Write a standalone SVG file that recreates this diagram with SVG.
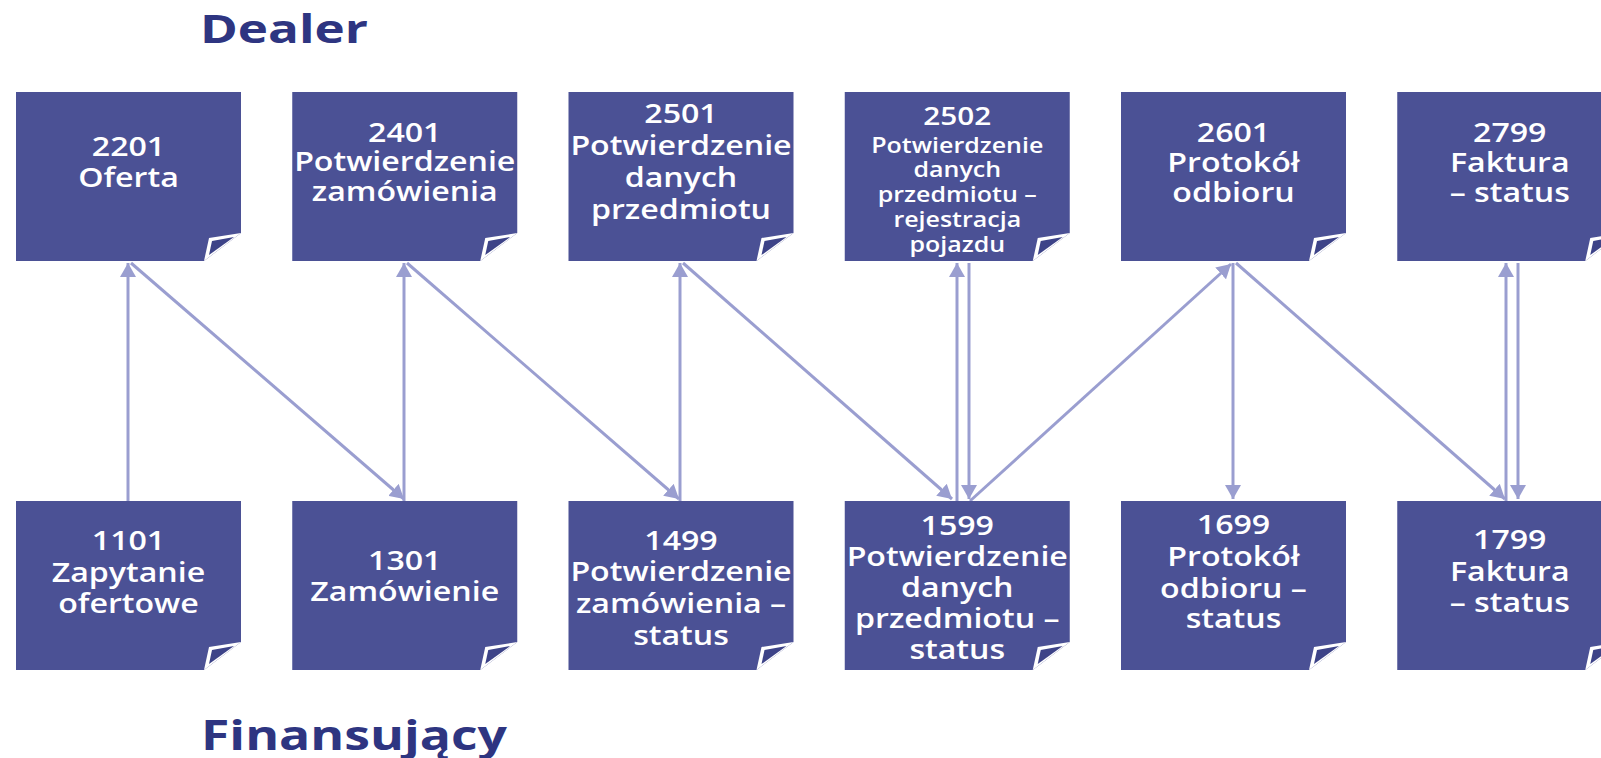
<svg xmlns="http://www.w3.org/2000/svg" width="1601" height="758" viewBox="0 0 1601 758">
<style>
.box{fill:#4b5195}
.fw{fill:#ffffff}
.fd{fill:#3d4388}
.t{fill:#ffffff;font-family:"Open Sans","Noto Sans","DejaVu Sans",sans-serif;font-weight:600;font-size:27px;text-anchor:middle}
.s{font-size:21px}
.h{fill:#2e3581;font-family:"Open Sans","Noto Sans","DejaVu Sans",sans-serif;font-weight:700}
.c path{fill:none;stroke:#9a9ed0;stroke-width:3;marker-end:url(#ah)}
</style>
<defs>
<marker id="ah" markerUnits="userSpaceOnUse" markerWidth="16" markerHeight="16" refX="14" refY="8" orient="auto" viewBox="0 0 16 16"><path d="M0,0 L14,8 L0,16 Z" fill="#9a9ed0"/></marker>
<path id="body" d="M0,0 H225 V141 L188,169 H0 Z"/>
<path id="foldw" d="M188,169 L193,146 L225,141 Z"/>
<path id="foldd" d="M196,149 L218,145 L193,163 Z"/>
</defs>
<rect width="1601" height="758" fill="#ffffff"/>
<text class="h" x="200" y="43" font-size="39" textLength="168" lengthAdjust="spacingAndGlyphs">Dealer</text>
<text class="h" x="201" y="750" font-size="41" textLength="306" lengthAdjust="spacingAndGlyphs">Finansujący</text>

<g id="connectors" class="c">
<path d="M128,501 L128,263"/>
<path d="M131,263 L404,499"/>
<path d="M404,501 L404,263"/>
<path d="M407,263 L679,499"/>
<path d="M680,501 L680,263"/>
<path d="M683,263 L952,499"/>
<path d="M957,501 L957,263"/>
<path d="M969,263 L969,499"/>
<path d="M970,501 L1231,264"/>
<path d="M1233,263 L1233,499"/>
<path d="M1236,263 L1505,499"/>
<path d="M1506,501 L1506,263"/>
<path d="M1518,263 L1518,499"/>
</g>

<g id="n2201">
<g transform="translate(16 92)"><use href="#body" class="box"/><use href="#foldw" class="fw"/><use href="#foldd" class="fd"/></g>
<text class="t" transform="translate(128.5 0) scale(1.19 1)"><tspan x="0" y="156">2201</tspan><tspan x="0" y="187">Oferta</tspan></text>
</g>
<g id="n2401">
<g transform="translate(292.25 92)"><use href="#body" class="box"/><use href="#foldw" class="fw"/><use href="#foldd" class="fd"/></g>
<text class="t" transform="translate(404.75 0) scale(1.19 1)"><tspan x="0" y="142">2401</tspan><tspan x="0" y="171">Potwierdzenie</tspan><tspan x="0" y="201">zamówienia</tspan></text>
</g>
<g id="n2501">
<g transform="translate(568.5 92)"><use href="#body" class="box"/><use href="#foldw" class="fw"/><use href="#foldd" class="fd"/></g>
<text class="t" transform="translate(681 0) scale(1.19 1)"><tspan x="0" y="123">2501</tspan><tspan x="0" y="155">Potwierdzenie</tspan><tspan x="0" y="187">danych</tspan><tspan x="0" y="219">przedmiotu</tspan></text>
</g>
<g id="n2502">
<g transform="translate(844.75 92)"><use href="#body" class="box"/><use href="#foldw" class="fw"/><use href="#foldd" class="fd"/></g>
<text class="t" transform="translate(957.25 0) scale(1.19 1)"><tspan x="0" y="125" font-size="25">2502</tspan><tspan class="s" x="0" y="153">Potwierdzenie</tspan><tspan class="s" x="0" y="177">danych</tspan><tspan class="s" x="0" y="202">przedmiotu –</tspan><tspan class="s" x="0" y="227">rejestracja</tspan><tspan class="s" x="0" y="252">pojazdu</tspan></text>
</g>
<g id="n2601">
<g transform="translate(1121 92)"><use href="#body" class="box"/><use href="#foldw" class="fw"/><use href="#foldd" class="fd"/></g>
<text class="t" transform="translate(1233.5 0) scale(1.19 1)"><tspan x="0" y="142">2601</tspan><tspan x="0" y="172">Protokół</tspan><tspan x="0" y="202">odbioru</tspan></text>
</g>
<g id="n2799">
<g transform="translate(1397.25 92)"><use href="#body" class="box"/><use href="#foldw" class="fw"/><use href="#foldd" class="fd"/></g>
<text class="t" transform="translate(1509.75 0) scale(1.19 1)"><tspan x="0" y="142">2799</tspan><tspan x="0" y="172">Faktura</tspan><tspan x="0" y="202">– status</tspan></text>
</g>

<g id="n1101">
<g transform="translate(16 501)"><use href="#body" class="box"/><use href="#foldw" class="fw"/><use href="#foldd" class="fd"/></g>
<text class="t" transform="translate(128.5 0) scale(1.19 1)"><tspan x="0" y="550">1101</tspan><tspan x="0" y="582">Zapytanie</tspan><tspan x="0" y="613">ofertowe</tspan></text>
</g>
<g id="n1301">
<g transform="translate(292.25 501)"><use href="#body" class="box"/><use href="#foldw" class="fw"/><use href="#foldd" class="fd"/></g>
<text class="t" transform="translate(404.75 0) scale(1.19 1)"><tspan x="0" y="570">1301</tspan><tspan x="0" y="601">Zamówienie</tspan></text>
</g>
<g id="n1499">
<g transform="translate(568.5 501)"><use href="#body" class="box"/><use href="#foldw" class="fw"/><use href="#foldd" class="fd"/></g>
<text class="t" transform="translate(681 0) scale(1.19 1)"><tspan x="0" y="550">1499</tspan><tspan x="0" y="581">Potwierdzenie</tspan><tspan x="0" y="613">zamówienia –</tspan><tspan x="0" y="645">status</tspan></text>
</g>
<g id="n1599">
<g transform="translate(844.75 501)"><use href="#body" class="box"/><use href="#foldw" class="fw"/><use href="#foldd" class="fd"/></g>
<text class="t" transform="translate(957.25 0) scale(1.19 1)"><tspan x="0" y="535">1599</tspan><tspan x="0" y="566">Potwierdzenie</tspan><tspan x="0" y="597">danych</tspan><tspan x="0" y="628">przedmiotu –</tspan><tspan x="0" y="659">status</tspan></text>
</g>
<g id="n1699">
<g transform="translate(1121 501)"><use href="#body" class="box"/><use href="#foldw" class="fw"/><use href="#foldd" class="fd"/></g>
<text class="t" transform="translate(1233.5 0) scale(1.19 1)"><tspan x="0" y="534">1699</tspan><tspan x="0" y="566">Protokół</tspan><tspan x="0" y="598">odbioru –</tspan><tspan x="0" y="628">status</tspan></text>
</g>
<g id="n1799">
<g transform="translate(1397.25 501)"><use href="#body" class="box"/><use href="#foldw" class="fw"/><use href="#foldd" class="fd"/></g>
<text class="t" transform="translate(1509.75 0) scale(1.19 1)"><tspan x="0" y="549">1799</tspan><tspan x="0" y="581">Faktura</tspan><tspan x="0" y="612">– status</tspan></text>
</g>
</svg>
